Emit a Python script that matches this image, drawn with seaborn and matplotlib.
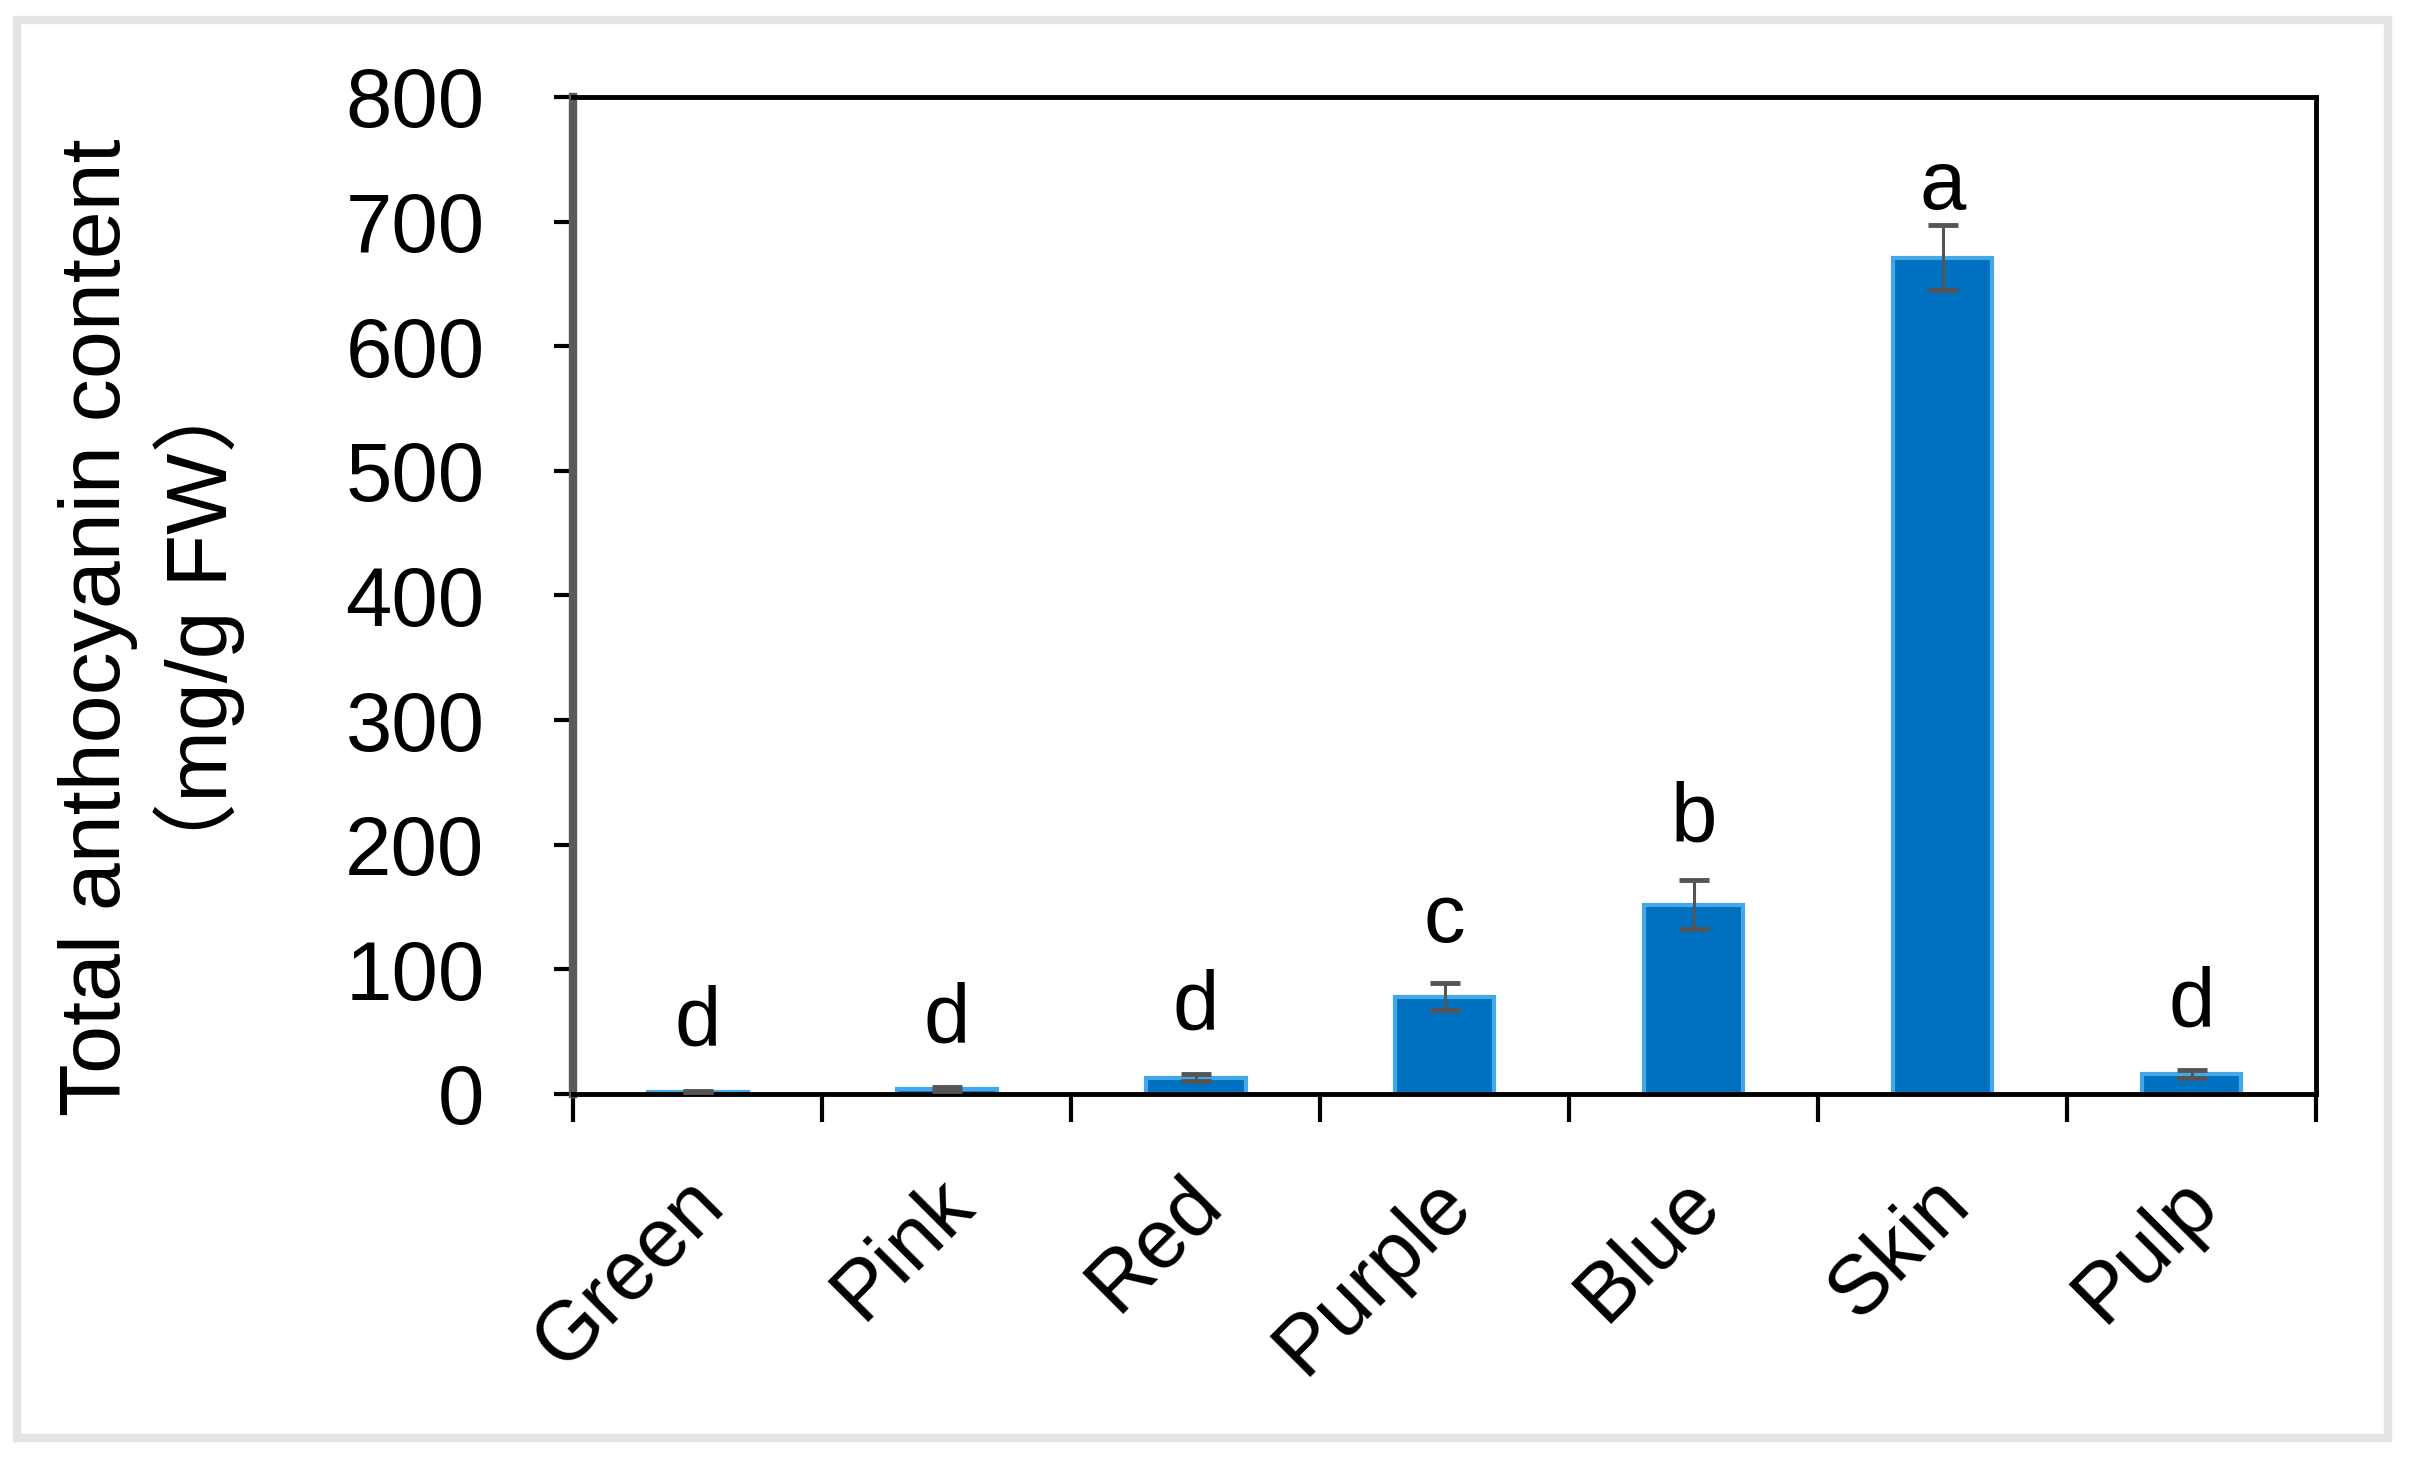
import numpy as np
import pandas as pd
import matplotlib
matplotlib.use("Agg")
import matplotlib.pyplot as plt
import matplotlib.patches as mpatches
import matplotlib.transforms as mtransforms
import seaborn as sns

# values (mg/g FW)
categories = ["Green", "Pink", "Red", "Purple", "Blue", "Skin", "Pulp"]
anthocyanin = [1.5, 4, 13, 78, 152, 671, 16]
errors = [1, 1.5, 3, 11, 20, 26, 3]
letters = ["d", "d", "d", "c", "b", "a", "d"]

sns.set_style("white")
plt.rcParams["font.family"] = ["Liberation Sans", "Noto Sans CJK SC", "DejaVu Sans"]

fs = 60
bar_color = "#0070C0"
edge_color = "#45A8E6"
err_color = "#555555"

df = pd.DataFrame({"cat": categories, "val": anthocyanin})

fig = plt.figure(figsize=(24.09, 14.58), dpi=100)
ax = fig.add_axes([0.238, 0.2497, 0.7234, 0.6838])

sns.barplot(data=df, x="cat", y="val", color=bar_color, width=0.4,
            edgecolor=edge_color, linewidth=3, errorbar=None, saturation=1, ax=ax)

# error bars and significance letters at the bar centres
xs = [p.get_x() + p.get_width() / 2 for p in ax.patches]
ax.errorbar(xs, anthocyanin, yerr=errors, fmt="none", ecolor=err_color,
            elinewidth=2.2, capsize=11, capthick=3.5, zorder=3)
for x, v, e, lab in zip(xs, anthocyanin, errors, letters):
    top = v + e
    ax.text(x, 36 + 0.967 * top, lab, ha="center", va="baseline",
            fontsize=fs, color="black")

ax.set_ylim(0, 800)
ax.set_xlim(-0.5, len(categories) - 0.5)
ax.set_yticks(np.arange(0, 801, 100))
ax.tick_params(axis="y", left=True, labelsize=fs, labelcolor="black",
               length=14, width=3, pad=50, color="black")

# x ticks at the category boundaries, labels at the centres
ax.set_xticks(np.arange(-0.5, len(categories), 1))
ax.set_xticklabels([])
ax.set_xticks(np.arange(len(categories)), minor=True)
ax.set_xticklabels(categories, minor=True, rotation=45, ha="right",
                   rotation_mode="anchor", fontsize=fs, color="black")
ax.tick_params(axis="x", which="major", bottom=True, length=20, width=3,
               color="black", direction="out")
ax.tick_params(axis="x", which="minor", bottom=True, length=0, pad=50)
shift = mtransforms.ScaledTranslation(-14 / 100, 0, fig.dpi_scale_trans)
for lbl in ax.get_xticklabels(minor=True):
    lbl.set_transform(lbl.get_transform() + shift)

for side in ["top", "right", "bottom"]:
    ax.spines[side].set_visible(True)
    ax.spines[side].set_color("black")
    ax.spines[side].set_linewidth(3.5)
ax.spines["left"].set_color("#5a5a5a")
ax.spines["left"].set_linewidth(6)

ax.set_xlabel("")
ax.set_ylabel("Total anthocyanin content\n（mg/g FW）", fontsize=62,
              linespacing=1.2, color="black")
ax.yaxis.label.set_va("center")
ax.yaxis.set_label_coords(-0.242, 0.468)

# light grey frame around the whole figure
fig.patches.append(mpatches.Rectangle((17 / 2409, 20 / 1458), 2371 / 2409, 1418 / 1458,
                                      transform=fig.transFigure, fill=False,
                                      edgecolor="#e3e3e3", linewidth=6))

fig.savefig("out.png", dpi=100, facecolor="white")
